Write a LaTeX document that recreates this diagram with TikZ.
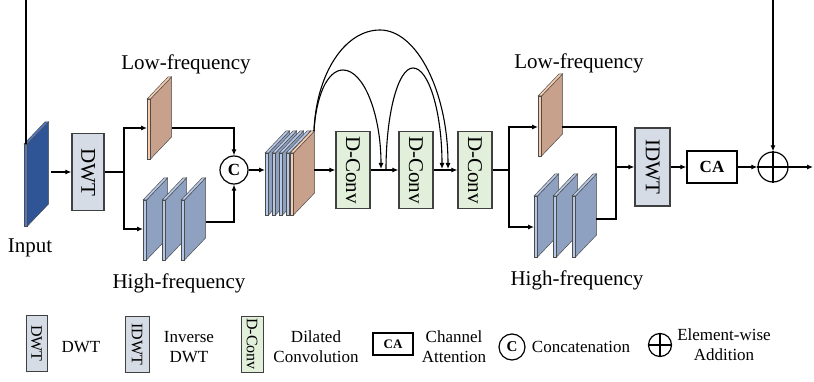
\documentclass[tikz,border=0pt]{standalone}
\usepackage{fontspec}
\setmainfont{Liberation Serif}
\usepackage{tikz}
\usetikzlibrary{arrows.meta, positioning}

\definecolor{inblue}{RGB}{47,85,151}
\definecolor{inblueL}{RGB}{78,120,196}
\definecolor{hfside}{RGB}{143,161,192}
\definecolor{hffront}{RGB}{182,200,231}
\definecolor{lfside}{RGB}{199,161,139}
\definecolor{lffront}{RGB}{248,203,173}
\definecolor{dwtfill}{RGB}{214,220,229}
\definecolor{convfill}{RGB}{226,239,218}
\definecolor{boxline}{RGB}{64,64,64}

\tikzset{
  wire/.style={line width=1.1pt},
  conn/.style={wire, -{Latex[length=6pt,width=5pt]}},
  slabline/.style={draw=black!70, line width=0.5pt},
  dwtbox/.style={draw=boxline, line width=1.3pt, fill=dwtfill, minimum width=32pt, minimum height=77pt, inner sep=0pt},
  convbox/.style={dwtbox, fill=convfill, minimum width=34pt},
  cabox/.style={draw=black, line width=1.3pt, fill=white, minimum width=50pt, minimum height=32pt, inner sep=0pt, font=\fontsize{17}{20}\selectfont\bfseries},
  catnode/.style={circle, draw, line width=1.2pt, minimum size=28pt, inner sep=0pt, font=\fontsize{17}{20}\selectfont\bfseries},
  addnode/.style={circle, draw, line width=1.2pt, minimum size=30pt, inner sep=0pt},
  legend/.style={font=\fontsize{17}{20}\selectfont, align=center},
  legbox/.style={font=\fontsize{16}{18}\selectfont, minimum width=21pt, minimum height=56pt, line width=1pt}
}

% one feature map: x of front strip, top, height, side colour, front colour
\newcommand{\slab}[5]{%
  \filldraw[slabline, fill=#4] (#1+3.5,#2) -- ++(21,-22) -- ++(0,#3) -- ++(-21,22) -- cycle;
  \filldraw[slabline, fill=#5] (#1,#2) -- ++(3.5,0) -- ++(21,-22) -- ++(-3.5,0) -- cycle;
  \filldraw[slabline, fill=#5] (#1,#2) rectangle ++(3.5,#3);
}

\begin{document}
\begin{tikzpicture}[x=1pt, y=-1pt, font=\fontsize{21}{25}\selectfont]
        \useasboundingbox (0,0) rectangle (814,382);

        % input and first DWT
        \slab{24}{144}{82}{inblue}{inblueL}
        \coordinate (inTop) at (26,144);
        \coordinate (inOut) at (51,172);
        \node (input) at (30,248) {Input};
        \node[dwtbox] (dwt) at (88,172) {\rotatebox{-90}{DWT}};
        \coordinate (s1) at (124,172);

        \slab{147}{99}{60}{lfside}{lffront}
        \coordinate (lowIn) at (147,128);
        \coordinate (lowOut) at (172,128);
        \foreach \i in {0,1,2}
            \slab{143+19*\i}{200}{60}{hfside}{hffront};
        \coordinate (highIn) at (143,229);
        \coordinate (highOut) at (206,222);
        \node (lowlab) at (186,64) {Low-frequency};
        \node (highlab) at (179,283) {High-frequency};

        \node[catnode] (cat) at (234,170) {C};

        % concatenated maps
        \foreach \x in {265,272,279,286}
            \slab{\x}{153}{62}{hfside}{hffront};
        \slab{290}{153}{62}{lfside}{lffront}
        \coordinate (stackIn) at (265,170);
        \coordinate (stackOut) at (314,170);
        \coordinate (stackTop) at (314,131);

        \node[convbox] (dc1) at (353,170) {\rotatebox{-90}{D-Conv}};
        \node[convbox] (dc2) at (416,170) {\rotatebox{-90}{D-Conv}};
        \node[convbox] (dc3) at (475,170) {\rotatebox{-90}{D-Conv}};
        \coordinate (m1) at (381,169);
        \coordinate (m2) at (386,170);
        \coordinate (m3) at (442,169);
        \coordinate (m4) at (448,169);
        \coordinate (s2) at (509,170);

        % second branch
        \slab{538}{96}{60}{lfside}{lffront}
        \coordinate (lowIn2) at (538,127);
        \coordinate (lowOut2) at (562,127);
        \foreach \i in {0,1,2}
            \slab{534+19*\i}{196}{61}{hfside}{hffront};
        \coordinate (highIn2) at (534,227);
        \coordinate (highOut2) at (596,219);
        \node (lowlab2) at (579,63) {Low-frequency};
        \node (highlab2) at (577,280) {High-frequency};
        \coordinate (s3) at (616,167);

        \node[dwtbox, minimum width=35pt, minimum height=78pt] (idwt) at (652.5,167) {\rotatebox{-90}{IDWT}};
        \node[cabox] (ca) at (712,167) {CA};
        \node[addnode] (add) at (773,167) {};
        \draw[line width=1.2pt] (add.north) -- (add.south) (add.west) -- (add.east);
        \coordinate (out) at (813,167);

        % connectors
        \draw[conn] (inOut) -- (dwt.west);
        \draw[wire] (dwt.east) -- (s1);
        \draw[conn] (s1) |- (lowIn);
        \draw[conn] (s1) |- (highIn);
        \draw[conn] (lowOut) -| (cat.north);
        \draw[conn] (highOut) -| (cat.south);
        \draw[conn] (cat.east) -- (stackIn);
        \draw[conn] (stackOut) -- (dc1.west);
        \draw[conn] (dc1.east) -- (dc2.west);
        \draw[conn] (dc2.east) -- (dc3.west);
        \draw[wire] (dc3.east) -- (s2);
        \draw[conn] (s2) |- (lowIn2);
        \draw[conn] (s2) |- (highIn2);
        \draw[wire] (lowOut2) -| (s3);
        \draw[wire] (highOut2) -| (s3);
        \draw[conn] (s3) -- (idwt.west);
        \draw[conn] (idwt.east) -- (ca.west);
        \draw[conn] (ca.east) -- (add.west);
        \draw[conn] (add.east) -- (out);
        \draw[conn] (inTop) -- ++(0,-160) -| (add.north);

        % dense skips
        \draw[conn] (stackTop) .. controls (316,97) and (327,70) .. (343,70)
            .. controls (364,70) and (381,115) .. (m1);
        \draw[conn] (stackTop) .. controls (316,75) and (344,30) .. (380,30)
            .. controls (417,30) and (448,92) .. (m4);
        \draw[conn] (m2) .. controls (386,114) and (398,68) .. (413,68)
            .. controls (429,68) and (442,113) .. (m3);

        % legend
        \node[dwtbox, legbox] (lgDwt) at (36.5,343.5) {\rotatebox{-90}{DWT}};
        \node[legend] (lgDwtTxt) at (81,347) {DWT};
        \node[dwtbox, legbox, minimum width=24pt] (lgIdwt) at (137,344) {\rotatebox{-90}{IDWT}};
        \node[legend] (lgIdwtTxt) at (189,347) {Inverse\\DWT};
        \node[convbox, legbox, minimum width=22pt] (lgConv) at (252,344) {\rotatebox{-90}{D-Conv}};
        \node[legend] (lgConvTxt) at (316,347) {Dilated\\Convolution};
        \node[cabox, minimum width=40pt, minimum height=22pt, font=\fontsize{13}{15}\selectfont\bfseries] (lgCa) at (393,344) {CA};
        \node[legend] (lgCaTxt) at (454,347) {Channel\\Attention};
        \node[catnode, minimum size=26pt, font=\fontsize{15}{17}\selectfont\bfseries] (lgCat) at (512,347) {C};
        \node[legend] (lgCatTxt) at (581,347) {Concatenation};
        \node[addnode, minimum size=23pt] (lgAdd) at (660,345) {};
        \draw[line width=1.1pt] (lgAdd.north) -- (lgAdd.south) (lgAdd.west) -- (lgAdd.east);
        \node[legend] (lgAddTxt) at (724,345) {Element-wise\\Addition};
\end{tikzpicture}
\end{document}
